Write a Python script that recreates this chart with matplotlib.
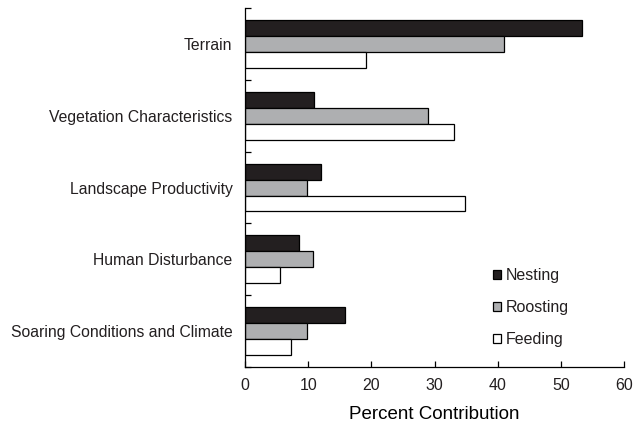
import numpy as np
import matplotlib
matplotlib.use('Agg')
import matplotlib.pyplot as plt
from matplotlib.ticker import FixedLocator

plt.rcParams['font.family'] = ['Liberation Sans', 'DejaVu Sans']
plt.rcParams['text.color'] = '#231f20'
plt.rcParams['xtick.labelcolor'] = '#231f20'
plt.rcParams['ytick.labelcolor'] = '#231f20'

categories = ['Terrain', 'Vegetation Characteristics', 'Landscape Productivity',
              'Human Disturbance', 'Soaring Conditions and Climate']
series = ['Nesting', 'Roosting', 'Feeding']
nesting = [53.4, 11.0, 12.1, 8.6, 15.9]
roosting = [41.0, 28.9, 9.8, 10.7, 9.8]
feeding = [19.1, 33.0, 34.8, 5.5, 7.3]
xticks = [0, 10, 20, 30, 40, 50, 60]

colours = ['#231f20', '#aeafb1', 'white']

fig = plt.figure(figsize=(6.34, 4.26), dpi=100)
ax = fig.add_axes([0.3864, 0.1385, 0.598, 0.8425])

y = np.arange(len(categories))
h = 0.222
for i, (vals, c, lab) in enumerate(zip([nesting, roosting, feeding], colours, series)):
    ax.barh(y + (i - 1) * h, vals, height=h, color=c, edgecolor='black',
            linewidth=0.9, label=lab)

ax.set_xlim(0, 60)
ax.set_ylim(len(categories) - 0.5, -0.5)
ax.set_xticks(xticks)
ax.set_yticks(y)
ax.set_yticklabels(categories, fontsize=11.3)
ax.yaxis.set_minor_locator(FixedLocator(np.arange(-0.5, len(categories), 1.0)))
ax.tick_params(axis='y', which='major', length=0, pad=9)
ax.tick_params(axis='y', which='minor', direction='in', length=4, width=0.9)
ax.tick_params(axis='x', direction='in', length=4, width=0.9, labelsize=11.5, pad=8)
ax.set_xlabel('Percent Contribution', fontsize=13.5, labelpad=9)

for s in ['top', 'right']:
    ax.spines[s].set_visible(False)
for s in ['left', 'bottom']:
    ax.spines[s].set_linewidth(0.9)

leg = ax.legend(loc='upper left', bbox_to_anchor=(0.615, 0.315), frameon=False,
                fontsize=11.5, handlelength=0.5, handleheight=0.5,
                handletextpad=0.3, labelspacing=1.05)

fig.savefig('out.png', dpi=100)
